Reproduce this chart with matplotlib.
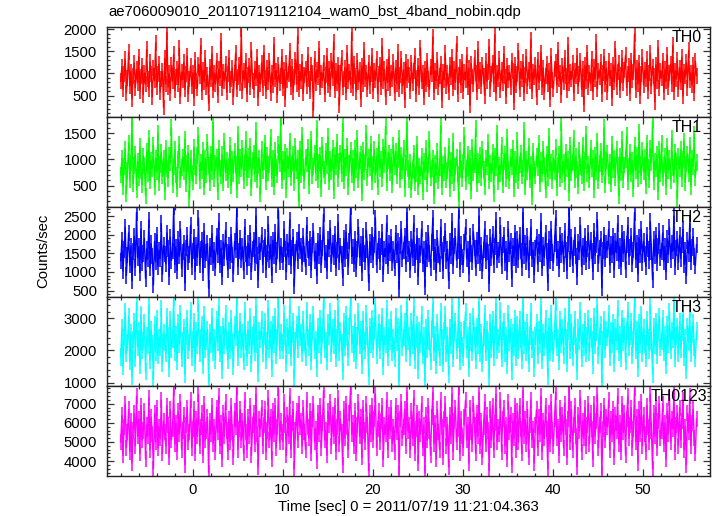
import numpy as np
import matplotlib
matplotlib.use("Agg")
import matplotlib.pyplot as plt
from matplotlib.ticker import MultipleLocator

plt.rcParams['font.family'] = ['Liberation Sans', 'DejaVu Sans']

# light curves, counts/sec, one value per 0.125 s bin
th0 = [
    820, 1150, 640, 980, 1320, 560, 890, 1480, 710, 1040, 430, 950, 1230, 680, 1090, 790,
    1380, 600, 930, 1170, 520, 1010, 760, 1540, 870, 650, 1260, 980, 470, 1120, 840, 1690,
    700, 990, 1210, 580, 870, 1050, 230, 1340, 760, 1930, 690, 1000, 560, 1180, 820, 1430,
    620, 910, 1100, 750, 1570, 480, 1030, 860, 1250, 640, 980, 1390, 540, 880, 1160, 710,
    1020, 450, 1300, 830, 660, 1200, 940, 1620, 590, 1070, 810, 1340, 700, 960, 330, 1150,
    870, 1440, 620, 1010, 760, 1280, 510, 1090, 900, 1730, 680, 1040, 830, 1210, 580, 990,
    1350, 730, 880, 1120, 470, 1000, 1460, 640, 920, 1190, 780, 2000, 610, 1060, 850, 1280,
    540, 970, 1170, 700, 1520, 820, 630, 1100, 890, 1360, 450, 1020, 760, 1240, 680, 1470,
    900, 600, 1130, 810, 1290, 560, 1010, 740, 1650, 870, 1060, 520, 1200, 790, 950, 1380,
    670, 1080, 420, 1230, 860, 990, 1500, 700, 1150, 580, 920, 1310, 760, 1840, 640, 1040,
    830, 1260, 550, 970, 1110, 710, 1420, 880, 600, 1190, 1000, 170, 1330, 780, 1070, 920,
    1560, 690, 1020, 840, 1240, 530, 960, 1390, 730, 1110, 650, 1270, 900, 1710, 620, 1050,
    780, 1180, 290, 1000, 1350, 690, 880, 1130, 570, 1460, 820, 1040, 740, 1920, 660, 1220,
    940, 590, 1290, 810, 1080, 430, 1170, 760, 1530, 870, 1010, 640, 1240, 720, 990, 1400,
    610, 1060, 850, 1320, 540, 980, 1190, 700, 1610, 830, 1090, 470, 1150, 790, 1370, 680,
    1010, 880, 1250, 560, 1120, 760, 1480, 650, 970, 1330, 720, 1080, 410, 1260, 840, 1140,
    960, 610, 1240, 780, 1050, 1390, 540, 900, 1170, 690, 1580, 820, 1010, 460, 1110, 750,
    1290, 880, 640, 1150, 990, 1820, 570, 1060, 830, 1300, 700, 950, 1210, 390, 1040, 860,
    1450, 720, 1000, 580, 1180, 910, 1360, 660, 1090, 800, 1670, 530, 970, 1140, 740, 1260,
    600, 1030, 850, 1410, 690, 1120, 280, 1220, 930, 760, 1350, 1010, 590, 1550, 820, 1080,
    710, 1190, 940, 500, 1270, 820, 1040, 1600, 650, 980, 1230, 770, 1870, 560, 1000, 880,
    1330, 620, 1070, 790, 1440, 930, 480, 1160, 840, 1020, 690, 1280, 1050, 350, 1200, 730,
    990, 1510, 640, 1100, 870, 1250, 560, 960, 1380, 720, 1080, 820, 1760, 600, 1030, 910,
    1180, 470, 1310, 800, 1000, 1470, 690, 1120, 580, 940, 1210, 760, 1060, 420, 1390, 850,
    650, 1090, 1260, 740, 1530, 880, 1010, 520, 1170, 800, 1350, 950, 620, 1640, 780, 1040,
    870, 1230, 560, 1060, 930, 1400, 710, 980, 1290, 640, 1100, 300, 1180, 830, 1470, 690,
    1020, 780, 1320, 590, 1140, 870, 1700, 650, 1050, 920, 1250, 540, 1000, 1380, 760, 1110,
    580, 1270, 900, 1060, 440, 1190, 810, 1560, 700, 1030, 1230, 620, 960, 1340, 790, 1080,
    1410, 680, 990, 1160, 550, 1290, 860, 1040, 1890, 630, 1120, 760, 1240, 500, 980, 1360,
    740, 1070, 880, 1320, 610, 1010, 1450, 720, 1150, 940, 360, 1200, 830, 1580, 670, 1050,
    900, 1280, 570, 1090, 820, 1420, 690, 1000, 1210, 760, 1630, 590, 1060, 870, 1300, 640,
    1130, 800, 1370, 490, 1040, 930, 1250, 680, 1520, 850, 1010, 730, 1180, 560, 1270, 950,
]
th1 = [
    700, 1020, 480, 860, 1190, 350, 780, 1310, 610, 930, 1780, 540, 880, 1100, 420, 960,
    650, 1240, 790, 520, 1060, 880, 300, 1150, 720, 1400, 590, 970, 830, 1270, 470, 1010,
    760, 1500, 560, 900, 1130, 680, 1020, 390, 1210, 820, 640, 1080, 930, 1600, 510, 870,
    1180, 700, 440, 990, 1290, 610, 850, 1040, 770, 1380, 530, 920, 1120, 250, 1010, 740,
    580, 1230, 860, 690, 1070, 1450, 600, 940, 790, 1160, 470, 1020, 710, 1320, 880, 560,
    1100, 760, 1700, 640, 930, 1040, 380, 1200, 820, 690, 1090, 560, 1340, 750, 980, 610,
    870, 1260, 500, 1000, 730, 1150, 900, 420, 1480, 680, 1030, 820, 1210, 590, 940, 1370,
    660, 1050, 800, 1240, 460, 970, 1120, 720, 1550, 610, 880, 1010, 340, 1180, 790, 950,
    1300, 570, 1080, 740, 900, 1420, 630, 1020, 480, 1170, 850, 700, 1280, 920, 1790, 600,
    990, 760, 1140, 430, 1060, 820, 1350, 650, 920, 1100, 560, 1250, 780, 1010, 200, 1190,
    710, 1460, 840, 590, 1030, 920, 1220, 500, 970, 1380, 680, 860, 1110, 750, 1580, 620,
    940, 1070, 450, 1260, 800, 690, 1150, 880, 1430, 570, 1000, 770, 1200, 410, 1080, 860,
    1330, 640, 960, 1120, 730, 1680, 590, 1040, 850, 1250, 480, 920, 1160, 700, 1010, 550,
    1210, 810, 1390, 620, 980, 1090, 360, 1170, 760, 950, 1500, 660, 1030, 840, 1290, 580,
    900, 1180, 700, 1060, 470, 1320, 820, 1000, 640, 1230, 890, 1630, 560, 970, 1110, 740,
    1040, 520, 1270, 860, 1150, 680, 990, 1400, 610, 1080, 790, 1200, 450, 930, 1700, 820,
    620, 940, 430, 800, 1120, 560, 720, 1290, 480, 870, 690, 1050, 380, 960, 760, 1210,
    540, 890, 1370, 650, 820, 1010, 300, 930, 700, 1150, 590, 840, 1640, 470, 900, 740,
    1080, 610, 790, 1250, 450, 980, 680, 1340, 560, 860, 1040, 720, 220, 1170, 810, 640,
    950, 1450, 580, 830, 1100, 690, 1020, 400, 1230, 750, 890, 1580, 530, 960, 700, 1080,
    660, 1190, 800, 480, 1010, 870, 1320, 600, 920, 730, 1140, 350, 1060, 840, 1500, 570,
    880, 720, 1270, 510, 960, 1090, 640, 1410, 780, 600, 1030, 860, 1200, 440, 990, 710,
    1360, 590, 900, 1120, 680, 830, 1550, 470, 1000, 760, 1240, 620, 910, 280, 1150, 800,
    690, 1060, 850, 1300, 540, 970, 720, 1180, 880, 420, 1090, 660, 1430, 780, 940, 600,
    1020, 760, 1220, 460, 890, 1100, 640, 1690, 710, 950, 580, 1130, 820, 1000, 370, 1260,
    740, 930, 1390, 620, 1050, 800, 490, 1160, 870, 690, 1270, 560, 980, 1470, 730, 900,
    610, 1210, 830, 1010, 420, 1080, 760, 1340, 590, 920, 1150, 700, 860, 1600, 520, 970,
    1110, 680, 940, 530, 1280, 810, 1020, 650, 1190, 880, 310, 1050, 740, 1370, 620, 890,
    1000, 1450, 570, 860, 1130, 720, 980, 440, 1260, 790, 1080, 640, 1520, 900, 690, 1160,
    760, 1040, 500, 1310, 850, 610, 1200, 930, 1730, 580, 960, 820, 1090, 380, 1180, 730,
    1300, 650, 890, 1060, 470, 1240, 780, 1010, 590, 1400, 840, 700, 1140, 960, 250, 1050,
    820, 1180, 640, 990, 1350, 560, 910, 1100, 730, 1260, 480, 1020, 870, 1480, 660, 940,
]
th2 = [
    1300, 1850, 1020, 1600, 2200, 900, 1450, 2050, 1180, 1700, 760, 1550, 1950, 1120, 2600, 1380,
    1680, 980, 2150, 1250, 1500, 1900, 820, 1620, 1340, 2400, 1100, 1760, 1430, 650, 1820, 1270,
    2000, 1150, 1580, 1360, 2300, 940, 1710, 1490, 1220, 2050, 1630, 880, 1940, 1310, 1560, 2750,
    1200, 1670, 1040, 1880, 1420, 2150, 1090, 1530, 1780, 700, 1640, 1980, 1260, 1470, 2250, 1130,
    1560, 1930, 1010, 1720, 1390, 2450, 1180, 1600, 1850, 980, 2100, 1330, 1520, 1760, 560, 1690,
    1410, 2030, 1240, 1580, 1100, 1960, 1470, 2350, 1200, 1640, 870, 1800, 1370, 2120, 1530, 1060,
    1730, 1290, 2000, 1450, 950, 1820, 1600, 2700, 1140, 1560, 1900, 1320, 1680, 1040, 2200, 1480,
    1150, 1770, 1380, 2050, 1010, 1620, 1860, 1250, 2500, 1440, 780, 1710, 1550, 1990, 1200, 1630,
    1920, 1060, 1500, 2280, 1330, 1740, 910, 1850, 1420, 2060, 1190, 1580, 2650, 1270, 1690, 1450,
    1270, 2150, 1610, 1000, 1790, 1400, 2400, 1160, 1650, 1930, 620, 1520, 1840, 1300, 2080, 1580,
    1700, 1210, 1960, 1480, 1140, 2250, 1600, 1370, 1880, 1050, 1720, 2100, 1290, 1560, 900, 1830,
    1440, 1990, 1180, 1650, 2550, 1320, 1510, 1030, 1870, 1620, 2180, 1230, 1780, 1400, 2020, 1110,
    1590, 2340, 1260, 1700, 1470, 850, 1900, 1350, 2070, 1580, 1140, 1830, 2750, 1420, 1660, 1210,
    1880, 1080, 1620, 2200, 1390, 1750, 990, 1960, 1500, 1270, 2120, 1600, 720, 1810, 1450, 2000,
    1330, 1730, 2450, 1190, 1560, 1890, 1280, 1680, 2070, 940, 1620, 1420, 2300, 1160, 1770, 1510,
    1940, 1250, 1600, 1100, 2050, 1470, 1820, 540, 1710, 2150, 1340, 1580, 1960, 1220, 2600, 1480,
    1620, 1050, 1880, 1390, 2300, 1180, 1540, 1960, 880, 1700, 1450, 2150, 1230, 1620, 600, 1840,
    1350, 2050, 1500, 1120, 1790, 2450, 1280, 1660, 980, 1910, 1470, 1210, 2200, 1580, 1030, 1750,
    2100, 1290, 1610, 770, 1830, 1440, 2350, 1170, 1690, 1950, 1320, 1560, 2650, 1080, 1740, 1400,
    1190, 1800, 2200, 1350, 1620, 940, 1970, 1500, 1260, 2080, 1640, 1110, 1850, 1430, 2500, 1240,
    1710, 1020, 1590, 2150, 1300, 1780, 1540, 690, 1920, 1370, 2010, 1200, 1680, 2400, 1330, 1590,
    1450, 2250, 1160, 1730, 1980, 1250, 1620, 1010, 2150, 1490, 1830, 820, 1700, 1390, 2050, 1180,
    1880, 1330, 2000, 1560, 1120, 2600, 1440, 1760, 1280, 1950, 1050, 1650, 2200, 1360, 1580, 930,
    1640, 1940, 1210, 1800, 1480, 2350, 1100, 1710, 1390, 2050, 1560, 720, 1870, 1300, 2150, 1520,
    1250, 1760, 2450, 1380, 1600, 1090, 1990, 1470, 1820, 1220, 2100, 1590, 1040, 1750, 2700, 1340,
    1930, 1180, 1640, 2000, 1420, 860, 1810, 1540, 2250, 1150, 1700, 1400, 1960, 1270, 1620, 2050,
    1300, 1850, 1560, 1010, 2100, 1440, 1720, 2400, 1230, 1650, 1890, 580, 1580, 2000, 1350, 1780,
    1600, 2150, 1190, 1750, 1460, 1950, 1060, 1830, 1520, 2300, 1290, 1680, 1140, 2050, 1500, 1870,
    1070, 1740, 2250, 1400, 1660, 1960, 1210, 1590, 2600, 1330, 1780, 950, 1920, 1460, 2150, 1250,
    1820, 1480, 1150, 2000, 1620, 1310, 2350, 1540, 790, 1870, 1430, 1990, 1240, 1700, 2100, 1390,
    1550, 2050, 1280, 1690, 1000, 1900, 1470, 2200, 1330, 1760, 1580, 2500, 1140, 1640, 1880, 1260,
    1980, 1360, 1720, 2150, 1200, 1590, 900, 1840, 1500, 2300, 1270, 1660, 1950, 1410, 1170, 1730,
]
th3 = [
    1800, 2700, 1500, 2400, 3200, 1900, 2250, 3050, 1650, 2550, 1200, 2350, 2900, 1750, 3500, 2100,
    2600, 1550, 3100, 2000, 2300, 2850, 1350, 2450, 2150, 3400, 1700, 2650, 2200, 1100, 2800, 1950,
    3000, 1850, 2400, 2100, 3300, 1600, 2550, 2250, 1900, 3050, 2450, 1450, 2950, 2050, 2350, 3650,
    1950, 2500, 1650, 2850, 2200, 3150, 1750, 2300, 2700, 1250, 2450, 3000, 2000, 2250, 3250, 1800,
    2350, 2900, 1600, 2600, 2150, 3450, 1900, 2400, 2800, 1550, 3100, 2050, 2300, 2650, 1000, 2550,
    2200, 3050, 1950, 2400, 1700, 2950, 2250, 3350, 1900, 2500, 1400, 2750, 2150, 3150, 2300, 1700,
    2600, 2000, 3000, 2250, 1500, 2800, 2400, 3650, 1800, 2350, 2900, 2050, 2550, 1650, 3250, 2250,
    1800, 2650, 2150, 3050, 1600, 2450, 2800, 1950, 3400, 2200, 1300, 2600, 2350, 2950, 1900, 2450,
    2900, 1700, 2300, 3300, 2050, 2650, 1450, 2800, 2200, 3050, 1850, 2400, 3600, 2000, 2550, 2250,
    2000, 3150, 2450, 1600, 2700, 2150, 3400, 1800, 2500, 2900, 1150, 2300, 2800, 2050, 3100, 2400,
    2550, 1900, 2950, 2250, 1800, 3250, 2400, 2100, 2850, 1650, 2600, 3100, 2000, 2350, 1450, 2750,
    2200, 3000, 1850, 2500, 3550, 2050, 2300, 1650, 2850, 2450, 3200, 1900, 2700, 2150, 3000, 1750,
    2400, 3350, 1950, 2600, 2250, 1350, 2900, 2100, 3100, 2400, 1800, 2750, 3650, 2200, 2500, 1900,
    2850, 1700, 2450, 3200, 2150, 2650, 1550, 2950, 2300, 2000, 3150, 2450, 1200, 2750, 2200, 3000,
    2050, 2600, 3450, 1850, 2350, 2850, 2000, 2550, 3050, 1500, 2450, 2200, 3300, 1800, 2700, 2300,
    2950, 1950, 2400, 1750, 3050, 2250, 2750, 1050, 2600, 3150, 2100, 2400, 2900, 1900, 3500, 2300,
    2450, 1800, 2900, 2150, 3350, 1700, 2350, 2800, 1400, 2600, 2200, 3100, 1850, 2450, 1050, 2700,
    2050, 3000, 2300, 1650, 2650, 3450, 1950, 2500, 1550, 2850, 2250, 1800, 3200, 2400, 1600, 2600,
    3100, 1900, 2450, 1250, 2700, 2150, 3400, 1750, 2550, 2900, 2000, 2350, 3600, 1650, 2600, 2150,
    1800, 2650, 3200, 2050, 2450, 1450, 2900, 2250, 1950, 3050, 2450, 1700, 2750, 2150, 3500, 1900,
    2550, 1600, 2400, 3150, 1950, 2650, 2300, 1150, 2850, 2050, 2950, 1800, 2500, 3450, 2000, 2400,
    2200, 3250, 1750, 2600, 2900, 1900, 2450, 1550, 3150, 2250, 2700, 1350, 2550, 2100, 3000, 1800,
    2800, 2000, 2950, 2350, 1700, 3550, 2150, 2600, 1950, 2850, 1600, 2450, 3200, 2050, 2350, 1450,
    2450, 2850, 1850, 2650, 2200, 3400, 1700, 2550, 2100, 3000, 2350, 1200, 2750, 1950, 3150, 2300,
    1900, 2600, 3500, 2100, 2400, 1650, 2950, 2200, 2700, 1850, 3050, 2400, 1600, 2600, 3650, 2000,
    2850, 1800, 2450, 2950, 2150, 1350, 2700, 2300, 3250, 1750, 2550, 2100, 2900, 1900, 2450, 3000,
    1950, 2750, 2350, 1550, 3050, 2150, 2550, 3400, 1850, 2450, 2800, 1000, 2350, 2950, 2050, 2650,
    2400, 3150, 1800, 2600, 2200, 2850, 1600, 2700, 2300, 3300, 1950, 2500, 1750, 3000, 2250, 2750,
    1650, 2600, 3250, 2100, 2450, 2900, 1850, 2350, 3600, 2000, 2650, 1450, 2850, 2200, 3100, 1900,
    2700, 2200, 1750, 2950, 2400, 2000, 3400, 2300, 1250, 2750, 2150, 2900, 1850, 2550, 3050, 2100,
    2300, 3000, 1950, 2500, 1550, 2800, 2200, 3200, 2000, 2600, 2350, 3500, 1750, 2450, 2750, 1900,
    2900, 2050, 2550, 3100, 1800, 2400, 1400, 2750, 2250, 3300, 1900, 2500, 2850, 2100, 1750, 2600,
]
th0123 = [
    5000, 6400, 4300, 5800, 7000, 4700, 5500, 6700, 4500, 6100, 3900, 5600, 6500, 4800, 7400, 5300,
    6200, 4400, 6900, 5100, 5600, 6600, 4100, 5900, 5300, 7300, 4600, 6300, 5400, 3600, 6500, 5000,
    6800, 4700, 5800, 5200, 7200, 4400, 6100, 5500, 4800, 6900, 5900, 4200, 6700, 5100, 5700, 7800,
    4900, 6000, 4500, 6600, 5400, 7100, 4600, 5600, 6400, 3800, 5900, 6800, 5000, 5500, 7200, 4700,
    5700, 6700, 4400, 6200, 5300, 7500, 4800, 5800, 6500, 4300, 7000, 5100, 5600, 6300, 3400, 6100,
    5400, 6900, 4900, 5800, 4500, 6800, 5500, 7400, 4800, 6000, 4100, 6500, 5300, 7100, 5600, 4500,
    6200, 5000, 6900, 5500, 4200, 6600, 5800, 7900, 4600, 5700, 6700, 5100, 6100, 4400, 7200, 5500,
    4600, 6300, 5300, 6900, 4300, 5900, 6500, 4900, 7500, 5400, 3700, 6200, 5700, 6800, 4800, 5900,
    6700, 4500, 5600, 7300, 5100, 6300, 4100, 6600, 5400, 6900, 4700, 5800, 7800, 5000, 6100, 5500,
    5000, 7100, 5900, 4300, 6400, 5300, 7400, 4600, 6000, 6700, 3600, 5600, 6600, 5100, 7000, 5800,
    6100, 4800, 6800, 5500, 4600, 7200, 5800, 5200, 6600, 4400, 6200, 7000, 5000, 5700, 4000, 6500,
    5400, 6900, 4700, 6000, 7700, 5100, 5600, 4300, 6600, 5900, 7100, 4800, 6400, 5300, 6900, 4500,
    5800, 7300, 4900, 6200, 5500, 3800, 6700, 5200, 7000, 5800, 4600, 6500, 7900, 5400, 6000, 4800,
    6600, 4400, 5900, 7100, 5300, 6300, 4200, 6800, 5600, 5000, 7000, 5900, 3500, 6500, 5400, 6900,
    5100, 6200, 7500, 4700, 5700, 6600, 5000, 6100, 6900, 4100, 5900, 5400, 7200, 4600, 6400, 5600,
    6800, 4900, 5800, 4500, 6900, 5500, 6500, 3300, 6200, 7100, 5200, 5800, 6700, 4800, 7600, 5600,
    5900, 4600, 6600, 5200, 7300, 4400, 5700, 6500, 3900, 6200, 5400, 7000, 4700, 5900, 3400, 6400,
    5100, 6900, 5600, 4300, 6300, 7600, 4900, 6000, 4100, 6700, 5500, 4600, 7200, 5800, 4200, 6200,
    7000, 4800, 5900, 3700, 6400, 5300, 7500, 4500, 6100, 6800, 5000, 5700, 7900, 4400, 6200, 5300,
    4700, 6300, 7200, 5100, 5900, 3900, 6800, 5500, 4900, 7000, 5900, 4400, 6500, 5300, 7600, 4800,
    6100, 4200, 5800, 7100, 4900, 6400, 5600, 3500, 6700, 5100, 6900, 4600, 6000, 7500, 5000, 5800,
    5400, 7200, 4500, 6200, 6800, 4800, 5900, 4100, 7100, 5500, 6400, 3800, 6100, 5200, 6900, 4600,
    6600, 5000, 6900, 5700, 4400, 7700, 5300, 6200, 4900, 6700, 4200, 5900, 7200, 5100, 5700, 3900,
    5900, 6700, 4700, 6300, 5400, 7400, 4500, 6100, 5200, 6900, 5700, 3600, 6500, 4900, 7100, 5600,
    4800, 6200, 7600, 5200, 5800, 4300, 6800, 5400, 6400, 4700, 7000, 5800, 4200, 6200, 7900, 5000,
    6700, 4600, 5900, 6900, 5300, 3700, 6400, 5600, 7300, 4500, 6100, 5200, 6800, 4800, 5900, 7000,
    4900, 6500, 5700, 4100, 7000, 5300, 6100, 7500, 4700, 5900, 6600, 3300, 5700, 6900, 5100, 6300,
    5800, 7200, 4600, 6200, 5400, 6700, 4200, 6400, 5600, 7400, 4900, 6000, 4500, 7000, 5500, 6500,
    4300, 6200, 7400, 5200, 5900, 6800, 4700, 5700, 7800, 5000, 6300, 3900, 6700, 5400, 7100, 4800,
    6400, 5400, 4500, 6900, 5800, 5000, 7500, 5600, 3600, 6500, 5300, 6800, 4700, 6100, 7000, 5200,
    5600, 7000, 4900, 6000, 4100, 6600, 5400, 7300, 5000, 6200, 5700, 7700, 4500, 5900, 6500, 4800,
    6800, 5100, 6100, 7200, 4600, 5800, 3800, 6500, 5500, 7400, 4800, 6000, 6700, 5200, 4400, 6200,
]

# typical 1-sigma error bar of one bin, per band (counts/sec)
errors = [180, 160, 220, 270, 420]

series = [th0, th1, th2, th3, th0123]
names = ['TH0', 'TH1', 'TH2', 'TH3', 'TH0123']
colors = ['#ff0000', '#00ff00', '#0000ff', '#00ffff', '#ff00ff']
ylims = [(15, 2040), (95, 1805), (340, 2750), (890, 3675), (3220, 7915)]
ymajor = [500, 500, 500, 1000, 1000]
yminor = [100, 100, 100, 200, 200]
name_x = [0.986, 0.986, 0.986, 0.987, 0.995]

t_start, t_end = -8.0, 56.0

W, H = 717, 516
fig = plt.figure(figsize=(W / 100, H / 100), dpi=100)

left = 106.7 / W
width = (710 - 106.7) / W
top_px, bot_px = 27.3, 476.0
ph = (bot_px - top_px) / 5 / H
fs = 10.7

for i, (y, name, c) in enumerate(zip(series, names, colors)):
    bottom = 1 - bot_px / H + (4 - i) * ph
    ax = fig.add_axes([left, bottom, width, ph])
    t = np.linspace(t_start, t_end, len(y))
    ax.errorbar(t, y, yerr=errors[i], color=c, lw=1.0, elinewidth=1.1,
                capsize=0)
    ax.set_xlim(-9.56, 57.5)
    ax.set_ylim(*ylims[i])
    ax.xaxis.set_major_locator(MultipleLocator(10))
    ax.xaxis.set_minor_locator(MultipleLocator(2))
    ax.yaxis.set_major_locator(MultipleLocator(ymajor[i]))
    ax.yaxis.set_minor_locator(MultipleLocator(yminor[i]))
    ax.tick_params(which='both', direction='in', top=True, right=True,
                   labelsize=fs, width=0.9, color='#333333', pad=7)
    ax.tick_params(which='major', length=5)
    ax.tick_params(which='minor', length=2.5)
    ax.tick_params(axis='x', pad=5)
    if i < 4:
        ax.tick_params(axis='x', labelbottom=False)
    for sp in ax.spines.values():
        sp.set_linewidth(1.0)
        sp.set_color('#222222')
        sp.set_zorder(3)
    ax.text(name_x[i], 0.965, name, transform=ax.transAxes, ha='right',
            va='top', fontsize=11.5, zorder=4)

fig.text(108 / W, 1 - 12 / H, 'ae706009010_20110719112104_wam0_bst_4band_nobin.qdp',
         ha='left', va='center', fontsize=fs)
fig.text(43 / W, 1 - 251 / H, 'Counts/sec', rotation=90, ha='center',
         va='center', fontsize=fs)
fig.text(408 / W, 1 - 507 / H, 'Time [sec] 0 = 2011/07/19 11:21:04.363',
         ha='center', va='center', fontsize=fs)

fig.savefig('out.png', dpi=100)
